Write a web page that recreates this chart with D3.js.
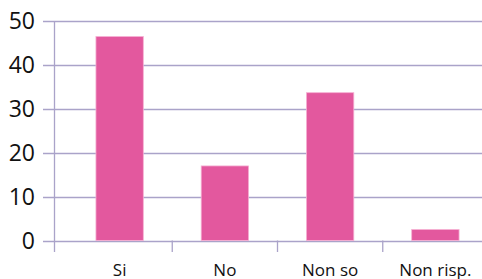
<!DOCTYPE html>
<html>
<head>
<meta charset="utf-8">
<script src="https://cdn.jsdelivr.net/npm/d3@7"></script>
<style>
  body { margin: 0; background: #fff; }
  svg { display: block; }
</style>
</head>
<body>
<svg id="chart" width="482" height="279"></svg>
<script>
// data
var categories = ['Si', 'No', 'Non so', 'Non risp.']
var values = [46.5, 17, 33.7, 2.5]
var yTicks = [0, 10, 20, 30, 40, 50]

const svg = d3.select('#chart')

// layout
var axis_x = 54.5
var grid_left = 43
var plot_right = 488
var y0 = 240.5
var y50 = 21.2

var bar_color = '#e3589e'
var bar_stroke = '#f5b0d3'
var grid_color = '#aaa3c9'
var text_color = '#111111'

const x = d3.scaleBand()
  .domain(categories)
  .range([67, plot_right])
  .paddingInner(0.55)
  .paddingOuter(0.275)

const y = d3.scaleLinear()
  .domain([0, 50])
  .range([y0, y50])

// gridlines
svg.append('g')
  .selectAll('line')
  .data(yTicks)
  .enter()
  .append('line')
  .attr('x1', grid_left)
  .attr('x2', 482)
  .attr('y1', d => Math.round(y(d)) + 0.5)
  .attr('y2', d => Math.round(y(d)) + 0.5)
  .attr('stroke', grid_color)
  .attr('stroke-width', 1.3)

// y axis labels
svg.append('g')
  .selectAll('text')
  .data(yTicks)
  .enter()
  .append('text')
  .attr('x', 35)
  .attr('y', d => y(d))
  .attr('dy', '0.36em')
  .attr('text-anchor', 'end')
  .attr('fill', text_color)
  .style('font-family', 'Open Sans')
  .style('font-size', '23px')
  .text(d => d)

// bars
svg.append('g')
  .selectAll('rect')
  .data(values)
  .enter()
  .append('rect')
  .attr('x', (d, i) => x(categories[i]))
  .attr('y', d => y(d))
  .attr('width', x.bandwidth())
  .attr('height', d => y0 - y(d))
  .attr('fill', bar_color)
  .attr('stroke', bar_stroke)
  .attr('stroke-width', 0.8)

// y axis line + category separators
svg.append('line')
  .attr('x1', axis_x).attr('x2', axis_x)
  .attr('y1', y(50)).attr('y2', 252)
  .attr('stroke', grid_color)
  .attr('stroke-width', 1.3)

var step = x.step()
svg.append('g')
  .selectAll('line')
  .data(categories.slice(1))
  .enter()
  .append('line')
  .attr('x1', d => x(d) - step * x.paddingInner() / 2)
  .attr('x2', d => x(d) - step * x.paddingInner() / 2)
  .attr('y1', y0)
  .attr('y2', 252)
  .attr('stroke', grid_color)
  .attr('stroke-width', 1.3)

// x labels
svg.append('g')
  .selectAll('text')
  .data(categories)
  .enter()
  .append('text')
  .attr('x', d => x(d) + x.bandwidth() / 2)
  .attr('y', 275.5)
  .attr('text-anchor', 'middle')
  .attr('fill', text_color)
  .style('font-family', 'Open Sans')
  .style('font-size', '17px')
  .text(d => d)
</script>
</body>
</html>
